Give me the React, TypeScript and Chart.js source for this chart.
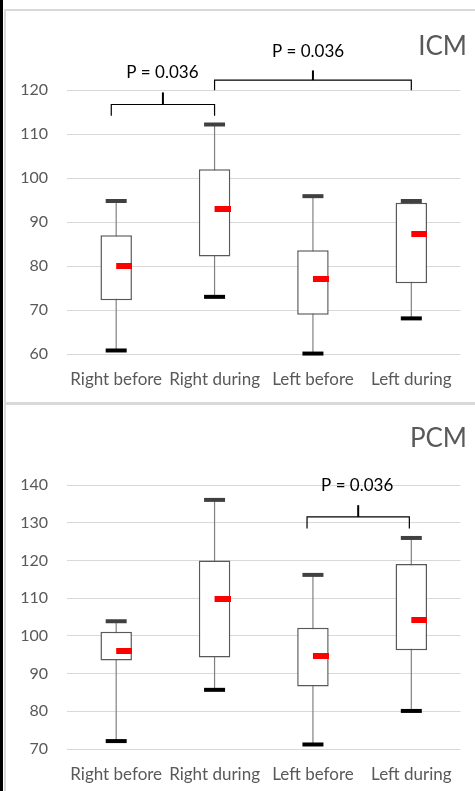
import React, { useEffect, useRef } from "react";
import { Chart, registerables } from "chart.js";

Chart.register(...registerables);
Chart.defaults.font.family = "Lato, 'Noto Sans', sans-serif";

const categories = ["Right before", "Right during", "Left before", "Left during"];

const icmMin = [60.8, 73.0, 60.1, 68.1];
const icmQ1 = [72.2, 82.2, 68.9, 76.1];
const icmMedian = [80.0, 93.0, 77.0, 87.2];
const icmQ3 = [87.0, 102.0, 83.6, 94.4];
const icmMax = [94.8, 112.2, 95.9, 94.8];
const icmTicks = [60, 70, 80, 90, 100, 110, 120];

const pcmMin = [72.1, 85.7, 71.2, 80.1];
const pcmQ1 = [93.5, 94.3, 86.6, 96.2];
const pcmMedian = [96.1, 109.8, 94.7, 104.2];
const pcmQ3 = [101.1, 120.0, 102.2, 119.1];
const pcmMax = [103.9, 136.1, 116.2, 126.0];
const pcmTicks = [70, 80, 90, 100, 110, 120, 130, 140];

type Bracket = {
  from: number;
  to: number;
  level: number;
  drop: number;
  rise: number;
  labelX: number;
  labelY: number;
  label: string;
};

const icmBrackets: Bracket[] = [
  { from: -0.05, to: 1, level: 116.75, drop: 114.2, rise: 119.5, labelX: 0.47, labelY: 124, label: "P = 0.036" },
  { from: 1, to: 3, level: 122.3, drop: 120, rise: 124.5, labelX: 1.95, labelY: 128.9, label: "P = 0.036" },
];

const pcmBrackets: Bracket[] = [
  { from: 1.94, to: 2.98, level: 131.6, drop: 128.5, rise: 134.7, labelX: 2.45, labelY: 139.8, label: "P = 0.036" },
];

function makeMedianMark(): HTMLCanvasElement {
  const c = document.createElement("canvas");
  c.width = 32;
  c.height = 6;
  const g = c.getContext("2d")!;
  g.fillStyle = "#ff0000";
  g.fillRect(16, 0, 16, 6);
  return c;
}

type PanelProps = {
  title: string;
  min: number[];
  q1: number[];
  med: number[];
  q3: number[];
  max: number[];
  ticks: number[];
  brackets: Bracket[];
  width: number;
  height: number;
  axisHeight: number;
  titlePadTop: number;
  titlePadBottom: number;
};

function BoxPanel(p: PanelProps) {
  const ref = useRef<HTMLCanvasElement>(null);
  useEffect(() => {
    const medianMark = makeMedianMark();
    const bracketPlugin = {
      id: "brackets",
      afterDatasetsDraw(chart: any) {
        const { ctx } = chart;
        const x = chart.scales.x;
        const y = chart.scales.y;
        ctx.save();
        ctx.strokeStyle = "#000";
        ctx.fillStyle = "#000";
        for (const b of p.brackets) {
          const x1 = x.getPixelForValue(b.from);
          const x2 = x.getPixelForValue(b.to);
          const xm = (x1 + x2) / 2;
          ctx.lineWidth = 1.2;
          ctx.beginPath();
          ctx.moveTo(x1, y.getPixelForValue(b.drop));
          ctx.lineTo(x1, y.getPixelForValue(b.level));
          ctx.lineTo(x2, y.getPixelForValue(b.level));
          ctx.lineTo(x2, y.getPixelForValue(b.drop));
          ctx.stroke();
          ctx.lineWidth = 2;
          ctx.beginPath();
          ctx.moveTo(xm, y.getPixelForValue(b.level));
          ctx.lineTo(xm, y.getPixelForValue(b.rise));
          ctx.stroke();
          ctx.font = "17px Lato, 'Noto Sans', sans-serif";
          ctx.textAlign = "center";
          ctx.textBaseline = "middle";
          ctx.fillText(b.label, x.getPixelForValue(b.labelX), y.getPixelForValue(b.labelY));
        }
        ctx.restore();
      },
    };

    const chart = new Chart(ref.current!, {
      type: "bar",
      data: {
        labels: categories,
        datasets: [
          {
            type: "bar",
            data: categories.map((_, i) => [p.q1[i], p.q3[i]]) as any,
            backgroundColor: "#ffffff",
            borderColor: "#595959",
            borderWidth: 1.5,
            borderSkipped: false,
            grouped: false,
            categoryPercentage: 1,
            barPercentage: 0.32,
            order: 2,
          } as any,
          {
            type: "bar",
            data: categories.map((_, i) => [p.min[i], p.max[i]]) as any,
            backgroundColor: "#7f7f7f",
            borderWidth: 0,
            grouped: false,
            categoryPercentage: 1,
            barPercentage: 0.012,
            order: 3,
          } as any,
          {
            type: "line",
            data: p.max,
            showLine: false,
            pointStyle: "line",
            pointRadius: 10.5,
            pointBorderWidth: 4,
            pointBorderColor: "#404040",
            clip: false,
            order: 1,
          } as any,
          {
            type: "line",
            data: p.min,
            showLine: false,
            pointStyle: "line",
            pointRadius: 10.5,
            pointBorderWidth: 4,
            pointBorderColor: "#000000",
            clip: false,
            order: 1,
          } as any,
          {
            type: "line",
            data: p.med,
            showLine: false,
            pointStyle: medianMark,
            pointRadius: 3,
            clip: false,
            order: 0,
          } as any,
        ],
      },
      options: {
        responsive: false,
        animation: false,
        events: [],
        layout: { padding: { left: 0, right: 8, top: 0, bottom: 0 } },
        plugins: {
          legend: { display: false },
          tooltip: { enabled: false },
          title: {
            display: true,
            text: p.title,
            align: "end",
            color: "#595959",
            font: { size: 26, weight: "normal" },
            padding: { top: p.titlePadTop, bottom: p.titlePadBottom },
          },
        },
        scales: {
          x: {
            type: "category",
            offset: true,
            grid: { display: false },
            border: { display: false },
            ticks: {
              color: "#595959",
              font: { size: 17 },
              padding: 7,
              maxRotation: 0,
              minRotation: 0,
              autoSkip: false,
            },
            afterFit: (s: any) => {
              s.height = p.axisHeight;
            },
          },
          y: {
            type: "linear",
            min: p.ticks[0],
            max: p.ticks[p.ticks.length - 1],
            grid: { color: "#d9d9d9", lineWidth: 1, drawTicks: false },
            border: { display: false },
            ticks: { color: "#595959", font: { size: 16 }, padding: 19 },
            afterBuildTicks: (s: any) => {
              s.ticks = p.ticks.map((v) => ({ value: v }));
            },
            afterFit: (s: any) => {
              s.width = 61;
            },
          },
        },
      } as any,
      plugins: [bracketPlugin],
    });
    return () => chart.destroy();
  }, []);
  return (
    <canvas
      ref={ref}
      width={p.width}
      height={p.height}
      style={{ display: "block", width: p.width, height: p.height }}
    />
  );
}

export default function App() {
  return (
    <div
      style={{
        position: "absolute",
        left: 0,
        top: 0,
        width: 475,
        height: 791,
        background: "#ffffff",
        overflow: "hidden",
      }}
    >
      <div style={{ position: "absolute", left: 0, top: 0, width: 3, height: 791, background: "#000" }} />
      <div style={{ position: "absolute", left: 4, top: 9, width: 2, height: 782, background: "#d9d9d9" }} />
      <div style={{ position: "absolute", left: 4, top: 9, width: 471, height: 2, background: "#d9d9d9" }} />
      <div style={{ position: "absolute", left: 4, top: 402, width: 471, height: 3, background: "#d9d9d9" }} />
      <div style={{ position: "absolute", left: 6, top: 11 }}>
        <BoxPanel
          title="ICM"
          min={icmMin}
          q1={icmQ1}
          med={icmMedian}
          q3={icmQ3}
          max={icmMax}
          ticks={icmTicks}
          brackets={icmBrackets}
          width={469}
          height={391}
          axisHeight={48}
          titlePadTop={20}
          titlePadBottom={28}
        />
      </div>
      <div style={{ position: "absolute", left: 6, top: 405 }}>
        <BoxPanel
          title="PCM"
          min={pcmMin}
          q1={pcmQ1}
          med={pcmMedian}
          q3={pcmQ3}
          max={pcmMax}
          ticks={pcmTicks}
          brackets={pcmBrackets}
          width={469}
          height={386}
          axisHeight={42}
          titlePadTop={18}
          titlePadBottom={31}
        />
      </div>
    </div>
  );
}
